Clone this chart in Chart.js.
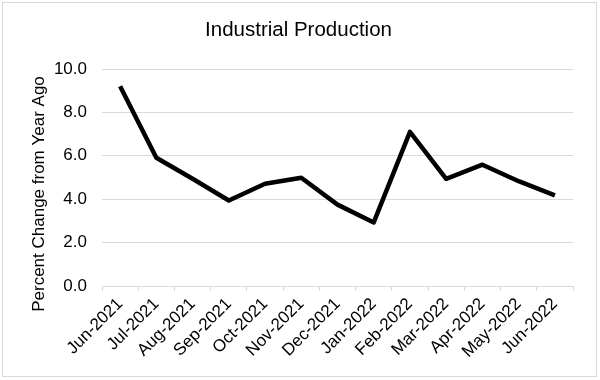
<!DOCTYPE html>
<html>
<head>
<meta charset="utf-8">
<script src="https://cdn.jsdelivr.net/npm/chart.js@4"></script>
<style>
  html, body { margin: 0; padding: 0; background: #fff; }
  #wrap { width: 600px; height: 380px; position: relative; }
</style>
</head>
<body>
<div id="wrap"><canvas id="c" width="600" height="380"></canvas></div>
<script>
const categories = ["Jun-2021","Jul-2021","Aug-2021","Sep-2021","Oct-2021","Nov-2021","Dec-2021","Jan-2022","Feb-2022","Mar-2022","Apr-2022","May-2022","Jun-2022"];
const industrialProduction = [9.21, 5.91, 4.94, 3.94, 4.71, 4.99, 3.75, 2.93, 7.10, 4.94, 5.59, 4.83, 4.18];
const yTicks = [0, 2, 4, 6, 8, 10];
const chartTitle = "Industrial Production";
const yAxisTitle = "Percent Change from Year Ago";

const FONT = "'Liberation Sans', Arial, Helvetica, sans-serif";

const frame = {
  id: 'frame',
  beforeDraw(chart) {
    const ctx = chart.ctx;
    ctx.save();
    ctx.fillStyle = '#fff';
    ctx.fillRect(0, 0, chart.width, chart.height);
    ctx.strokeStyle = '#d9d9d9';
    ctx.lineWidth = 1;
    ctx.strokeRect(2.5, 2.5, 594, 374);
    ctx.restore();
  },
  afterDraw(chart) {
    const ctx = chart.ctx;
    ctx.save();
    ctx.translate(39, 194);
    ctx.rotate(-Math.PI / 2);
    ctx.font = "17px " + FONT;
    ctx.fillStyle = '#000';
    ctx.textAlign = 'center';
    ctx.textBaseline = 'middle';
    ctx.fillText(yAxisTitle, 0, 0);
    ctx.restore();
  }
};

new Chart(document.getElementById('c'), {
  type: 'line',
  data: {
    labels: categories,
    datasets: [{
      data: industrialProduction,
      borderColor: '#000',
      borderWidth: 4.5,
      borderJoinStyle: 'round',
      pointRadius: 0,
      pointHoverRadius: 0,
      tension: 0,
      fill: false
    }]
  },
  options: {
    responsive: false,
    animation: false,
    devicePixelRatio: 1,
    layout: { padding: { left: 24, right: 27, top: 0, bottom: 0 } },
    plugins: {
      legend: { display: false },
      tooltip: { enabled: false },
      title: {
        display: true,
        text: chartTitle,
        color: '#000',
        font: { family: FONT, size: 20.5, weight: 'normal' },
        padding: { top: 18.2, bottom: 26.2 }
      }
    },
    scales: {
      x: {
        offset: true,
        grid: { offset: true, drawOnChartArea: false, drawTicks: true, tickLength: 5, color: '#d9d9d9' },
        border: { display: true, color: '#d9d9d9', width: 1 },
        ticks: {
          minRotation: 45, maxRotation: 45, autoSkip: false,
          color: '#000', padding: 3,
          font: { family: FONT, size: 17 }
        },
        afterFit(scale) { scale.height = 94; }
      },
      y: {
        min: 0, max: 10,
        afterBuildTicks(scale) { scale.ticks = yTicks.map(v => ({ value: v })); },
        grid: { color: '#d9d9d9', drawTicks: false, lineWidth: 1 },
        border: { display: false },
        ticks: {
          color: '#000', padding: 15,
          font: { family: FONT, size: 17 },
          callback: v => Number(v).toFixed(1)
        },
        afterFit(scale) { scale.width = 78; }
      }
    }
  },
  plugins: [frame]
});
</script>
</body>
</html>
